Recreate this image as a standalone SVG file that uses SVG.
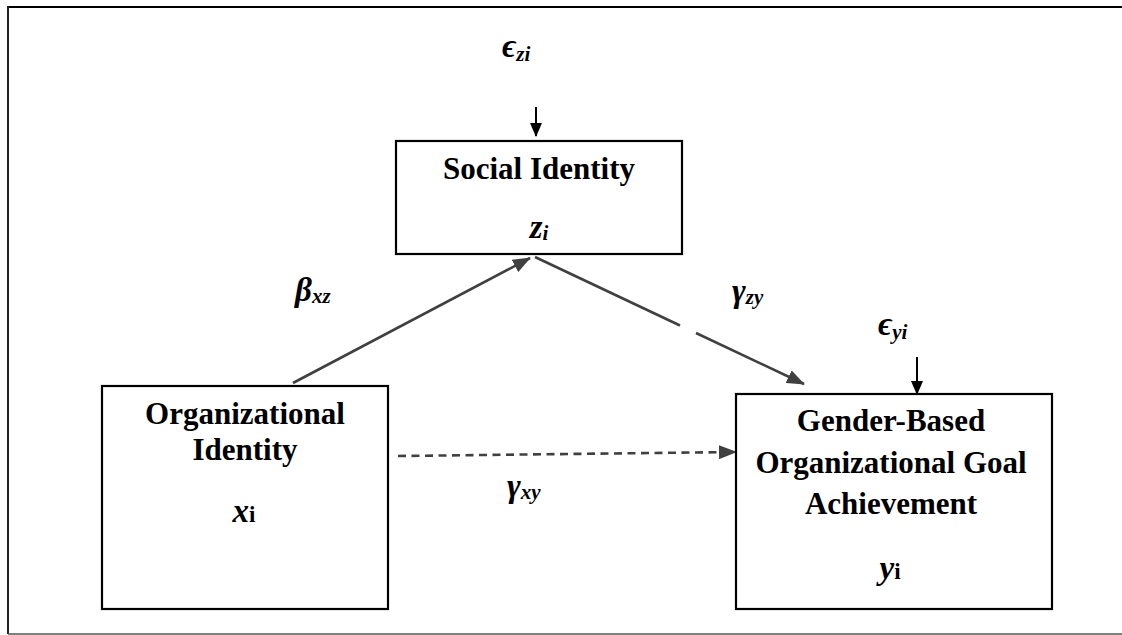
<svg xmlns="http://www.w3.org/2000/svg" width="1122" height="635" viewBox="0 0 1122 635">
  <style>
    .box { fill: #fff; stroke: #000; stroke-width: 2.2; }
    .lbl { font-family: "Liberation Serif", "Times New Roman", serif; font-weight: bold; font-size: 31px; fill: #000; text-anchor: middle; }
    .sym { font-family: "Liberation Serif", "DejaVu Serif", serif; font-weight: bold; font-style: italic; font-size: 33px; fill: #000; }
    .sub { font-size: 21px; }
    .up { font-style: normal; font-size: 23px; }
    .path { stroke: #404040; stroke-width: 2.6; fill: none; }
    .err { stroke: #000; stroke-width: 2; fill: none; }
  </style>
  <defs>
    <marker id="head" markerUnits="userSpaceOnUse" markerWidth="18" markerHeight="14" refX="17" refY="7" orient="auto">
      <path d="M0,0 L18,7 L0,14 Z" fill="#404040"/>
    </marker>
    <marker id="headErr" markerUnits="userSpaceOnUse" markerWidth="14" markerHeight="12" refX="13" refY="6" orient="auto">
      <path d="M0,0 L14,6 L0,12 Z" fill="#000"/>
    </marker>
  </defs>

  <!-- outer frame -->
  <g id="frame">
    <line x1="8" y1="7" x2="1122" y2="7" stroke="#000" stroke-width="2.2"/>
    <line x1="8" y1="6" x2="8" y2="634" stroke="#222" stroke-width="2"/>
    <line x1="8" y1="634" x2="1122" y2="634" stroke="#555" stroke-width="1.4"/>
  </g>

  <!-- connectors -->
  <g id="connectors">
    <line class="path" x1="293" y1="383" x2="530" y2="258" marker-end="url(#head)"/>
    <line class="path" x1="535" y1="257" x2="680" y2="325.5"/>
    <line class="path" x1="696" y1="333" x2="804" y2="384" marker-end="url(#head)"/>
    <line class="path" x1="398" y1="456" x2="736" y2="452" stroke-dasharray="8 5.5" marker-end="url(#head)"/>
    <line class="err" x1="536" y1="107" x2="536" y2="136" marker-end="url(#headErr)"/>
    <line class="err" x1="917" y1="357" x2="917" y2="394" marker-end="url(#headErr)"/>
  </g>

  <!-- coefficient and error labels -->
  <g id="labels">
    <text class="sym" x="502" y="57">ϵ<tspan class="sub" dy="4">zi</tspan></text>
    <text class="sym" x="878" y="335">ϵ<tspan class="sub" dy="4">yi</tspan></text>
    <text class="sym" x="295" y="301">β<tspan class="sub" dy="2">xz</tspan></text>
    <text class="sym" x="732" y="302">γ<tspan class="sub" dy="2">zy</tspan></text>
    <text class="sym" x="507" y="497">γ<tspan class="sub" dy="2">xy</tspan></text>
  </g>

  <g id="social-identity">
    <rect class="box" x="396" y="141" width="286" height="113"/>
    <text class="lbl" x="539" y="179">Social Identity</text>
    <text class="sym" x="539" y="238" text-anchor="middle">z<tspan class="sub" dy="2">i</tspan></text>
  </g>

  <g id="organizational-identity">
    <rect class="box" x="102" y="386" width="286" height="223"/>
    <text class="lbl" x="245" y="424">Organizational</text>
    <text class="lbl" x="245" y="460">Identity</text>
    <text class="sym" x="244" y="522" text-anchor="middle">x<tspan class="up">i</tspan></text>
  </g>

  <g id="goal-achievement">
    <rect class="box" x="736" y="394" width="316" height="215"/>
    <text class="lbl" x="891" y="431">Gender-Based</text>
    <text class="lbl" x="891" y="473">Organizational Goal</text>
    <text class="lbl" x="891" y="514">Achievement</text>
    <text class="sym" x="890" y="579" text-anchor="middle">y<tspan class="up">i</tspan></text>
  </g>
</svg>
